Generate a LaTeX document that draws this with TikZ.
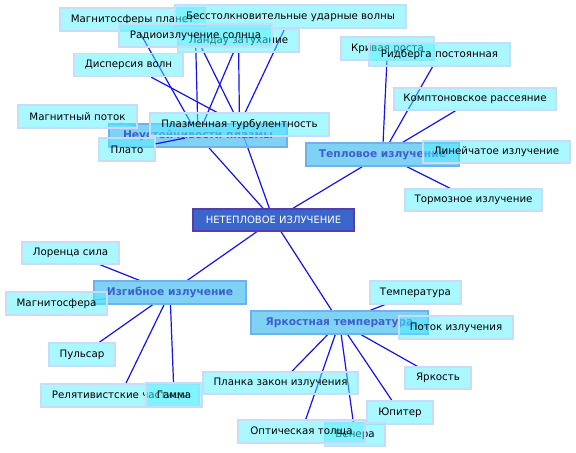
\documentclass[tikz,border=0pt]{standalone}
\usepackage{fontspec}
\setmainfont{DejaVu Sans}
\usepackage{xcolor}
\usepackage{tikz}
\definecolor{coreblue}{RGB}{58, 102, 204}
\definecolor{coreedge}{RGB}{88, 60, 170}
\definecolor{groupfill}{RGB}{96, 199, 243}
\definecolor{groupedge}{RGB}{112, 176, 236}
\definecolor{grouptext}{RGB}{60, 96, 204}
\definecolor{leaffill}{RGB}{85, 241, 255}
\definecolor{leafedge}{RGB}{200, 220, 250}
\definecolor{linkblue}{RGB}{20, 20, 240}
\pgfdeclarelayer{background}
\pgfsetlayers{background,main}

\begin{document}
\begin{tikzpicture}[x=0.75pt, y=-0.75pt,
    wd/.style={minimum width=#1*0.75pt},
    core/.style={draw=coreedge, fill=coreblue, line width=1pt, inner sep=0pt,
        minimum height=22*0.75pt, text=white, font=\fontsize{7.5}{9}\selectfont},
    group/.style={draw=groupedge, fill=groupfill, fill opacity=0.8, text opacity=1,
        line width=1pt, inner sep=0pt, minimum height=23*0.75pt, text=grouptext,
        font=\fontsize{8}{9}\selectfont\bfseries},
    leaf/.style={draw=leafedge, fill=leaffill, fill opacity=0.5, text opacity=1,
        line width=1pt, inner sep=0pt, minimum height=23*0.75pt, text=black,
        font=\fontsize{7.7}{9}\selectfont},
    link/.style={draw=linkblue, line width=0.9pt}]
    \useasboundingbox (0,0) rectangle (576,453);

    % centre and the four groups
    \node[core, wd=161] (core) at (273.5,220) {НЕТЕПЛОВОЕ ИЗЛУЧЕНИЕ};
    \node[group, wd=178] (neust) at (198,135.5) {Неустойчивости плазмы};
    \node[group, wd=153] (tepl) at (382.5,154.5) {Тепловое излучение};
    \node[group, wd=152] (izgib) at (170,292.5) {Изгибное излучение};
    \node[group, wd=177] (yark) at (339.5,322.5) {Яркостная температура};

    % plasma instabilities
    \node[leaf, wd=145] (magplan) at (132.5,19.5) {Магнитосферы планет};
    \node[leaf, wd=231] (besst) at (290.5,16.5) {Бесстолкновительные ударные волны};
    \node[leaf, wd=121] (landau) at (238.5,40.5) {Ландау затухание};
    \node[leaf, wd=153] (radio) at (195.5,35.5) {Радиоизлучение солнца};
    \node[leaf, wd=109] (disp) at (128.5,65) {Дисперсия волн};
    \node[leaf, wd=119] (magpot) at (77.5,116.5) {Магнитный поток};
    \node[leaf, wd=179] (plasma) at (239.5,124.5) {Плазменная турбулентность};
    \node[leaf, wd=56] (plato) at (127,149.5) {Плато};

    % thermal emission
    \node[leaf, wd=93] (kriv) at (387.5,48.5) {Кривая роста};
    \node[leaf, wd=141] (ridberg) at (439.5,54.5) {Ридберга постоянная};
    \node[leaf, wd=162, minimum height=22*0.75pt] (compton) at (475,99) {Комптоновское рассеяние};
    \node[leaf, wd=147, minimum height=22*0.75pt] (lineyn) at (496.5,152) {Линейчатое излучение};
    \node[leaf, wd=137, minimum height=22*0.75pt] (tormoz) at (473.5,200) {Тормозное излучение};

    % curvature emission
    \node[leaf, wd=97, minimum height=22*0.75pt] (lorenz) at (70.5,253) {Лоренца сила};
    \node[leaf, wd=101] (magsf) at (56.5,303.5) {Магнитосфера};
    \node[leaf, wd=66] (pulsar) at (82,354.5) {Пульсар};
    \node[leaf, wd=158] (relat) at (120,395.5) {Релятивистские частицы};
    \node[leaf, wd=56, minimum height=24*0.75pt] (gamma) at (174,395) {Гамма};

    % brightness temperature
    \node[leaf, wd=91] (temp) at (415.5,292.5) {Температура};
    \node[leaf, wd=114] (potok) at (456,327.5) {Поток излучения};
    \node[leaf, wd=66, minimum height=22*0.75pt] (yarkost) at (438,378) {Яркость};
    \node[leaf, wd=66] (jupiter) at (400,412.5) {Юпитер};
    \node[leaf, wd=155, minimum height=22*0.75pt] (planck) at (280.5,383) {Планка закон излучения};
    \node[leaf, wd=60] (venera) at (355,434.5) {Венера};
    \node[leaf, wd=127] (optich) at (301.5,431.5) {Оптическая толща};

    % links
    \begin{pgfonlayer}{background}
        \foreach \n in {neust,tepl,izgib,yark,plasma}
            \draw[link] (core) -- (\n);
        \foreach \n in {magplan,radio,landau,magpot}
            \draw[link] (neust) -- (\n);
        \foreach \n in {disp,radio,landau,besst}
            \draw[link] (plasma) -- (\n);
        \foreach \n in {kriv,ridberg,compton,lineyn,tormoz}
            \draw[link] (tepl) -- (\n);
        \foreach \n in {lorenz,magsf,pulsar,relat,gamma}
            \draw[link] (izgib) -- (\n);
        \foreach \n in {temp,potok,yarkost,jupiter,venera,optich,planck}
            \draw[link] (yark) -- (\n);
    \end{pgfonlayer}
    \draw[link, shorten >=10pt] (plato) -- (neust.center);
\end{tikzpicture}
\end{document}
